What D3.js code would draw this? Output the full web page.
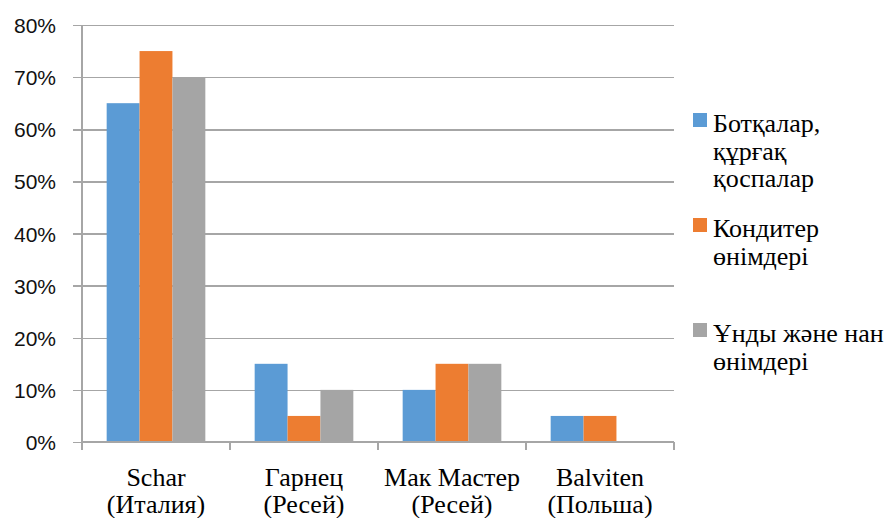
<!DOCTYPE html>
<html><head><meta charset="utf-8">
<script src="https://cdn.jsdelivr.net/npm/d3@7"></script>
<style>
html,body{margin:0;padding:0;background:#fff;}
svg text.serif-lbl{font-family:"Liberation Serif","Times New Roman",serif !important;}
svg text.sans-lbl{font-family:"Liberation Sans",Arial,sans-serif !important;}
</style>
</head><body>
<svg id="c" width="889" height="518"></svg>
<script>
const categories = [["Schar", "(Италия)"], ["Гарнец", "(Ресей)"], ["Мак Мастер", "(Ресей)"], ["Balviten", "(Польша)"]];
const seriesNames = [["Ботқалар,", "құрғақ", "қоспалар"], ["Кондитер", "өнімдері"], ["Ұнды және нан", "өнімдері"]];
const seriesColors = ["#5B9BD5", "#ED7D31", "#A5A5A5"];
const s1 = [0.65, 0.15, 0.10, 0.05];
const s2 = [0.75, 0.05, 0.15, 0.05];
const s3 = [0.70, 0.10, 0.15, 0.00];
const yTicks = [0, 0.1, 0.2, 0.3, 0.4, 0.5, 0.6, 0.7, 0.8];

(function () {
const series = [s1, s2, s3];
const svg = d3.select("#c");
const pL = 82, pR = 674, pT = 25, pB = 442;
const gridColor = "#A6A6A6";

const x = d3.scaleBand().domain(d3.range(categories.length)).range([pL, pR]).padding(0);
const xi = d3.scaleBand().domain(d3.range(series.length)).range([0, x.bandwidth()]).paddingInner(0).paddingOuter(0.75);
const y = d3.scaleLinear().domain([0, 0.8]).range([pB, pT]);

// gridlines + y ticks
const yAxis = d3.axisLeft(y).tickValues(yTicks).tickSize(-(pR - pL)).tickFormat(d3.format(".0%")).tickPadding(0);
const gy = svg.append("g").attr("transform", `translate(${pL},0)`).call(yAxis);
gy.attr("font-family", null).attr("font-size", null);
gy.select(".domain").remove();
gy.selectAll(".tick line").attr("x1", -9).attr("stroke", gridColor).attr("stroke-width", 1.5).attr("shape-rendering", "crispEdges");
gy.selectAll(".tick text").attr("x", -26).attr("dy", "0.36em").attr("class", "sans-lbl")
  .style("font-family", "Liberation Sans").attr("font-size", 21).attr("fill", "#111");

// vertical axis line
svg.append("line").attr("x1", pL).attr("x2", pL).attr("y1", pT).attr("y2", pB)
  .attr("stroke", gridColor).attr("stroke-width", 1.5).attr("shape-rendering", "crispEdges");

// bars
series.forEach((vals, si) => {
  svg.append("g").selectAll("rect").data(vals).join("rect")
    .attr("x", (d, i) => x(i) + xi(si))
    .attr("width", xi.bandwidth())
    .attr("y", d => y(d))
    .attr("height", d => y(0) - y(d))
    .attr("fill", seriesColors[si]);
});

// x axis
const xAxisG = svg.append("g").attr("transform", `translate(0,${pB})`);
xAxisG.append("line").attr("x1", pL).attr("x2", pR).attr("stroke", gridColor).attr("stroke-width", 1.5).attr("shape-rendering", "crispEdges");
const tickXs = d3.range(categories.length + 1).map(i => i < categories.length ? x(i) : x(i - 1) + x.bandwidth());
xAxisG.selectAll("line.t").data(tickXs).join("line").attr("class", "t")
  .attr("x1", d => d).attr("x2", d => d).attr("y1", 0).attr("y2", 8)
  .attr("stroke", gridColor).attr("stroke-width", 1.5).attr("shape-rendering", "crispEdges");

categories.forEach((c, i) => c.forEach((t, j) => {
  svg.append("text")
    .attr("class", "serif-lbl")
    .attr("x", x(i) + x.bandwidth() / 2)
    .attr("y", 486 + j * 27)
    .attr("text-anchor", "middle")
    .attr("font-size", 26)
    .style("font-family", "Liberation Serif")
    .text(t);
}));

// legend
const legendY = [132, 237, 342];
seriesNames.forEach((lines, si) => {
  svg.append("rect").attr("x", 693).attr("y", legendY[si] - 19).attr("width", 14).attr("height", 14).attr("fill", seriesColors[si]);
  lines.forEach((l, j) => {
    svg.append("text").attr("class", "serif-lbl").attr("x", 713).attr("y", legendY[si] + j * 27.5)
      .attr("font-size", 26).style("font-family", "Liberation Serif").text(l);
  });
});
})();
</script>
</body></html>
